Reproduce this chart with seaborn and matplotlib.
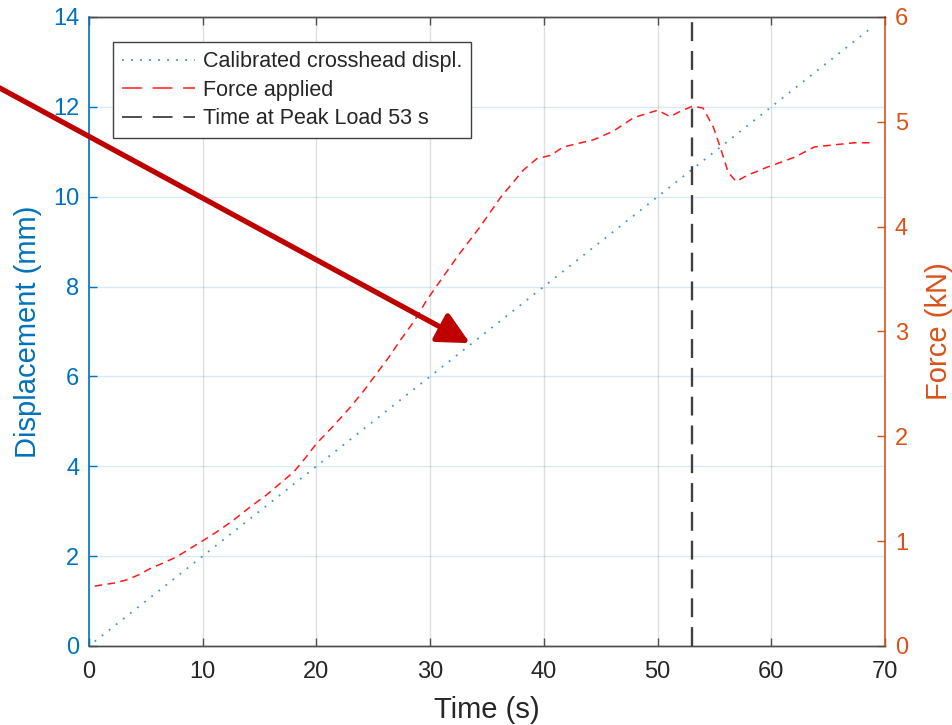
import matplotlib
matplotlib.use("Agg")
import matplotlib.pyplot as plt
from matplotlib.lines import Line2D
import seaborn as sns
import pandas as pd

# Crosshead displacement (mm) against time (s)
disp_time = [0.5, 10.0, 20.0, 30.0, 40.0, 50.0, 60.0, 68.8]
disp_mm = [0.1, 2.0, 4.0, 6.0, 8.0, 10.0, 12.0, 13.76]

# Applied force (kN) against time (s)
force_time = [0.5, 1.0, 2.2, 3.3, 4.4, 5.4, 6.5, 7.7, 8.9, 10.1, 11.4, 12.7,
              14.1, 15.6, 16.8, 18.0, 19.0, 20.0, 21.5, 23.0, 24.2, 25.3,
              26.4, 27.4, 28.6, 29.7, 31.0, 32.5, 34.4, 36.2, 38.2, 39.4,
              40.6, 41.7, 42.9, 44.4, 46.1, 47.9, 50.0, 51.1, 52.0, 53.1,
              54.0, 54.9, 55.5, 56.2, 56.9, 57.9, 59.7, 62.0, 63.8, 65.5,
              67.3, 69.0]
force_kn = [0.57, 0.58, 0.60, 0.63, 0.68, 0.74, 0.79, 0.85, 0.93, 1.01, 1.10, 1.20,
            1.32, 1.44, 1.55, 1.66, 1.79, 1.93, 2.10, 2.28, 2.44, 2.60,
            2.76, 2.92, 3.10, 3.30, 3.50, 3.73, 4.00, 4.28, 4.54, 4.65,
            4.68, 4.76, 4.79, 4.83, 4.91, 5.04, 5.11, 5.05, 5.10, 5.15,
            5.13, 4.95, 4.76, 4.52, 4.43, 4.49, 4.57, 4.66, 4.76, 4.78,
            4.80, 4.80]

peak_time = 53

x_ticks = [0, 10, 20, 30, 40, 50, 60, 70]
disp_ticks = [0, 2, 4, 6, 8, 10, 12, 14]
force_ticks = [0, 1, 2, 3, 4, 5, 6]

BLUE = "#0072BD"
ORANGE = "#D95319"
DARK = "#262626"
DOT_BLUE = "#3C95D8"
FORCE_RED = "#FF1A1A"
PEAK_GREY = "#404040"

sns.set_theme(style="white")
plt.rcParams["font.family"] = ["Liberation Sans", "DejaVu Sans"]

disp_df = pd.DataFrame({"Time (s)": disp_time, "Displacement (mm)": disp_mm})
force_df = pd.DataFrame({"Time (s)": force_time, "Force (kN)": force_kn})

fig = plt.figure(figsize=(9.53, 7.25), dpi=100)
ax1 = fig.add_axes([0.0934, 0.109, 0.8353, 0.8676])
ax2 = ax1.twinx()

sns.lineplot(data=disp_df, x="Time (s)", y="Displacement (mm)", ax=ax1,
             color=DOT_BLUE, linewidth=1.3, linestyle=(0, (1, 4)),
             estimator=None, errorbar=None, legend=False)
ax1.axvline(peak_time, color=PEAK_GREY, linewidth=1.7, linestyle=(0, (8, 4.2)))
sns.lineplot(data=force_df, x="Time (s)", y="Force (kN)", ax=ax2,
             color=FORCE_RED, linewidth=1.1, linestyle=(0, (5, 3.5)),
             estimator=None, errorbar=None, legend=False)

ax1.set_xlim(0, 70)
ax1.set_ylim(0, 14)
ax2.set_ylim(0, 6)
ax1.set_xticks(x_ticks)
ax1.set_yticks(disp_ticks)
ax2.set_yticks(force_ticks)

# grid: vertical lines neutral, horizontal lines tinted by the left axis
ax1.xaxis.grid(True, color=DARK, alpha=0.15, linewidth=1.0)
ax1.yaxis.grid(True, color=BLUE, alpha=0.15, linewidth=1.0)
ax1.set_axisbelow(True)
ax2.grid(False)

for ax in (ax1, ax2):
    ax.spines["top"].set_color("#4d4d4d")
    ax.spines["bottom"].set_color("#4d4d4d")
    ax.spines["top"].set_linewidth(1.0)
    ax.spines["bottom"].set_linewidth(1.0)
ax1.spines["left"].set_color(BLUE)
ax1.spines["left"].set_linewidth(1.2)
ax1.spines["right"].set_visible(False)
ax2.spines["left"].set_visible(False)
ax2.spines["right"].set_color(ORANGE)
ax2.spines["right"].set_linewidth(1.2)

ax1.tick_params(axis="x", direction="in", top=True, bottom=True, length=6,
                width=1.0, color="#4d4d4d", labelcolor=DARK, labelsize=17, pad=11)
ax1.tick_params(axis="y", direction="in", left=True, length=6, width=1.0,
                color=BLUE, labelcolor=BLUE, labelsize=17, pad=7)
ax2.tick_params(axis="y", direction="in", right=True, length=6, width=1.0,
                color=ORANGE, labelcolor=ORANGE, labelsize=17, pad=7)

ax1.set_xlabel("Time (s)", fontsize=21, color=DARK, labelpad=9)
ax1.set_ylabel("Displacement (mm)", fontsize=21, color=BLUE, labelpad=8)
ax2.set_ylabel("Force (kN)", fontsize=21, color=ORANGE, labelpad=12)

# legend keys drawn with longer dash patterns so each style reads clearly
keys = [
    Line2D([], [], color=DOT_BLUE, linewidth=1.3, linestyle=(0, (1, 4))),
    Line2D([], [], color=FORCE_RED, linewidth=1.1, linestyle=(0, (13, 7))),
    Line2D([], [], color=PEAK_GREY, linewidth=1.3, linestyle=(0, (11, 6))),
]
labels = ["Calibrated crosshead displ.", "Force applied",
          f"Time at Peak Load {peak_time} s"]
leg = ax2.legend(keys, labels, loc="upper left", bbox_to_anchor=(0.030, 0.960),
                 borderaxespad=0, fancybox=False, framealpha=1, edgecolor="#404040",
                 fontsize=15.5, handlelength=3.4, handletextpad=0.35,
                 labelspacing=0.35, borderpad=0.42)
leg.get_frame().set_linewidth(1.0)

# pointer arrow entering from the left edge
ax2.annotate("", xy=(33.5, 6.74 * 6 / 14), xycoords="data",
             xytext=(-0.005, 0.882), textcoords="figure fraction",
             arrowprops=dict(arrowstyle="-|>,head_length=1.6,head_width=0.8",
                             color="#BF0000", linewidth=3.8, shrinkA=0, shrinkB=0),
             annotation_clip=False)

fig.savefig("out.png", dpi=100)
